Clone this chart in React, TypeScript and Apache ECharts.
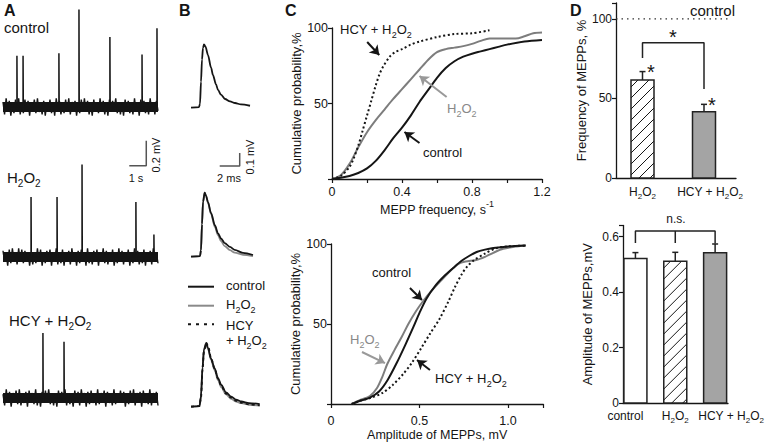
import React, { useEffect, useRef } from 'react';
import * as echarts from 'echarts';

const FONT = 'Liberation Sans, Arial, Helvetica, sans-serif';
const INK = '#151515';
const GRAY = '#8a8a8a';

// ---------- Panel A : raw recordings (time s, mV) ----------
const traceDuration = 9.12;
const spikesControl = [[0.82, 0.41], [1.18, 0.41], [3.29, 0.43], [4.47, 0.78], [6.29, 0.56], [8.18, 0.42], [9.06, 0.63]];
const spikesH2O2 = [[1.65, 0.48], [3.18, 0.48], [4.65, 0.74], [7.82, 0.44], [8.88, 0.18]];
const spikesHCY = [[2.35, 0.52], [3.59, 0.45]];
// baseline noise, in 0.01 mV
const noiseControl = [4, -6, 7, -3, 5, -7, 2, -5, 6, -4, 7, -6, 3, -5, 6, -2, 5, -7, 4, -3, 6, -5, 7, -4, 2, -6, 5, -7, 3, -4, 6, -5, 4, -7, 7, -3, 5, -6, 2, -5, 6, -4, 7, -6, 4, -2, 5, -7, 3, -5, 6, -4, 7, -3, 5, -6, 2, -7, 6, -4, 4, -5, 7, -3, 5, -6, 3, -7, 6, -4, 5, -2, 7, -5, 4, -6, 3, -7, 6, -3, 5, -5, 2, -6, 7, -4, 4, -7, 6, -3, 5, -5, 3, -6, 7, -4, 4, -6, 5, -3];
const noiseH2O2 = [5, -4, 3, -7, 6, -5, 7, -3, 4, -6, 7, -4, 6, -5, 5, -3, 4, -7, 3, -6, 2, -5, 7, -4, 6, -7, 3, -5, 5, -3, 6, -7, 4, -4, 7, -6, 3, -5, 6, -7, 4, -3, 5, -6, 7, -4, 3, -7, 5, -5, 6, -3, 4, -7, 7, -5, 3, -6, 5, -4, 6, -7, 4, -3, 7, -5, 5, -6, 3, -4, 6, -7, 2, -5, 7, -4, 5, -6, 4, -3, 6, -7, 3, -5, 7, -4, 5, -6, 2, -5, 6, -7, 4, -3, 5, -6, 7, -4, 3, -5];
const noiseHCY = [3, -6, 7, -4, 5, -7, 4, -3, 6, -5, 7, -6, 3, -4, 5, -7, 6, -3, 4, -5, 7, -6, 3, -7, 5, -4, 6, -3, 7, -5, 4, -6, 3, -7, 6, -4, 5, -3, 7, -6, 4, -5, 3, -7, 6, -4, 5, -6, 7, -3, 4, -7, 5, -5, 6, -4, 3, -6, 7, -5, 4, -3, 6, -7, 5, -4, 3, -6, 7, -5, 4, -4, 6, -3, 5, -7, 3, -5, 6, -4, 7, -6, 4, -3, 5, -7, 6, -4, 3, -5, 7, -6, 4, -3, 5, -6];
const scaleA = { seconds: 1, mV: 0.2 };

// ---------- Panel B : averaged MEPPs (time ms, mV) ----------
const bTopControl = [[0, 0], [0.8, 0.005], [0.9, 0.03], [1.0, 0.2], [1.1, 0.37], [1.2, 0.46], [1.3, 0.487], [1.45, 0.47], [1.7, 0.405], [2.0, 0.31], [2.2, 0.25], [2.5, 0.18], [2.7, 0.137], [3.0, 0.1], [3.4, 0.067], [3.9, 0.048], [4.4, 0.036], [5.0, 0.025], [5.9, 0.015]];
const bMidControl = [[0, 0], [0.9, 0.005], [1.0, 0.05], [1.1, 0.25], [1.2, 0.42], [1.37, 0.492], [1.5, 0.47], [1.7, 0.42], [2.0, 0.336], [2.4, 0.24], [2.7, 0.18], [3.0, 0.14], [3.37, 0.105], [3.9, 0.075], [4.37, 0.052], [5.2, 0.03], [6.2, 0.013]];
const bMidH2O2 = [[0, 0], [0.9, 0.005], [1.0, 0.05], [1.1, 0.25], [1.2, 0.42], [1.37, 0.492], [1.5, 0.468], [1.7, 0.415], [2.0, 0.33], [2.4, 0.225], [2.7, 0.165], [3.0, 0.12], [3.37, 0.082], [3.9, 0.05], [4.37, 0.031], [5.2, 0.015], [6.2, 0.005]];
const bBotControl = [[0, 0], [0.85, 0.005], [1.0, 0.08], [1.15, 0.3], [1.3, 0.44], [1.53, 0.488], [1.7, 0.45], [2.0, 0.37], [2.37, 0.295], [2.7, 0.22], [3.03, 0.167], [3.5, 0.11], [4.03, 0.077], [4.5, 0.055], [5.03, 0.04], [5.8, 0.028], [6.87, 0.02]];
const bBotH2O2 = [[0, 0], [0.85, 0.005], [1.0, 0.08], [1.15, 0.3], [1.3, 0.44], [1.5, 0.488], [1.7, 0.445], [2.0, 0.36], [2.37, 0.28], [2.7, 0.205], [3.03, 0.15], [3.5, 0.095], [4.03, 0.06], [4.5, 0.04], [5.03, 0.027], [5.8, 0.015], [6.87, 0.008]];
const bBotHCY = [[0, 0], [0.85, 0.005], [1.0, 0.07], [1.15, 0.28], [1.3, 0.43], [1.55, 0.49], [1.75, 0.455], [2.0, 0.375], [2.37, 0.29], [2.7, 0.215], [3.03, 0.158], [3.5, 0.1], [4.03, 0.068], [4.5, 0.045], [5.03, 0.03], [5.8, 0.018], [6.87, 0.01]];
const scaleB = { ms: 2, mV: 0.1 };

// ---------- Panel C : cumulative probability ----------
const cTopControl = [[0, 0], [0.05, 0.8], [0.1, 2], [0.15, 4], [0.2, 7], [0.25, 12], [0.3, 19], [0.35, 27], [0.4, 34], [0.45, 42], [0.5, 51], [0.55, 59], [0.6, 67], [0.65, 73.5], [0.7, 78], [0.75, 81], [0.8, 83], [0.85, 84.5], [0.9, 86], [0.95, 87.5], [1.0, 89], [1.1, 91], [1.2, 92]];
const cTopH2O2 = [[0, 0], [0.05, 2.5], [0.1, 10], [0.15, 21], [0.2, 31], [0.25, 39], [0.3, 46], [0.35, 53], [0.4, 59.5], [0.45, 66], [0.5, 72.5], [0.55, 79], [0.6, 84], [0.65, 86], [0.7, 87], [0.75, 88], [0.8, 89.5], [0.85, 91.5], [0.9, 93], [1.0, 93], [1.05, 93], [1.1, 94.5], [1.15, 96.5], [1.2, 97]];
const cTopHCY = [[0, 0], [0.05, 2], [0.1, 8], [0.125, 14], [0.15, 22], [0.175, 32], [0.2, 42], [0.225, 52], [0.25, 62], [0.27, 69], [0.29, 74], [0.33, 81], [0.36, 84], [0.4, 86], [0.45, 89], [0.5, 91], [0.6, 94], [0.7, 96], [0.8, 96.5], [0.9, 98.5]];
const cBotControl = [[0.117, 0], [0.165, 2], [0.22, 4], [0.273, 8], [0.32, 15], [0.371, 25.6], [0.42, 37], [0.465, 48], [0.5, 57], [0.54, 66], [0.59, 74], [0.64, 80], [0.69, 85], [0.738, 89.5], [0.78, 92.5], [0.823, 95], [0.87, 96.5], [0.917, 97.5], [1.0, 98.5], [1.1, 99]];
const cBotH2O2 = [[0.117, 0], [0.165, 2.5], [0.22, 5], [0.26, 10], [0.29, 17], [0.318, 25], [0.36, 34], [0.4, 42], [0.437, 50], [0.48, 58], [0.525, 65], [0.57, 71], [0.62, 77], [0.672, 83], [0.72, 87.5], [0.76, 89], [0.82, 90], [0.87, 92], [0.917, 94.5], [0.973, 97], [1.05, 98.5], [1.1, 99]];
const cBotHCY = [[0.117, 0], [0.165, 2], [0.23, 4], [0.292, 7], [0.35, 12], [0.41, 19], [0.456, 25.6], [0.51, 35], [0.56, 44], [0.612, 53], [0.663, 64], [0.7, 73], [0.738, 81], [0.77, 86], [0.81, 90], [0.87, 94], [0.936, 97.5], [1.0, 98.5], [1.1, 99]];

// ---------- Panel D : bar charts ----------
const dTopCats = ['H2O2', 'HCY + H2O2'];
const dTopMeans = [61.6, 41.7];
const dTopErr = [5.3, 4.6];
const dTopKinds = ['hatch', 'gray'];
const dBotCats = ['control', 'H2O2', 'HCY + H2O2'];
const dBotMeans = [0.521, 0.511, 0.541];
const dBotErr = [0.021, 0.032, 0.032];
const dBotKinds = ['white', 'hatch', 'gray'];

const h2o2 = (pre = '') => `{n|${pre}H}{s|2}{n|O}{s|2}`;

function rich(size: number, color: string) {
  const sub = Math.round(size * 0.68);
  const base = { fontFamily: FONT, color, fill: color };
  return {
    n: { ...base, fontSize: size, lineHeight: size + 1, verticalAlign: 'top' },
    q: { ...base, fontSize: size, lineHeight: size + 1, padding: [4, 0, 0, 0], verticalAlign: 'top' },
    s: { ...base, fontSize: sub, lineHeight: sub, padding: [Math.round(size * 0.5), 0, 0, 0], verticalAlign: 'top' },
    p: { ...base, fontSize: sub, lineHeight: sub, verticalAlign: 'top' },
    g12: { ...base, fontSize: size, width: 12 },
    g20: { ...base, fontSize: size, width: 20 },
    g32: { ...base, fontSize: size, width: 32 },
  };
}

function label(x: number, y: number, text: string, size: number, o: any = {}) {
  const color = o.color || INK;
  return {
    type: 'text', x, y, rotation: o.rotation || 0, z: 100, silent: true,
    style: {
      text, fill: color, fontSize: size, fontFamily: FONT, fontWeight: o.bold ? 'bold' : 'normal',
      align: o.align || 'left', verticalAlign: 'middle', rich: rich(size, color),
    },
  };
}

function spikeData(sp: number[][]) {
  const pts: number[][] = [[0, 0]];
  for (const [t, a] of sp) pts.push([t, 0], [t, a], [t + 0.015, 0]);
  pts.push([traceDuration, 0]);
  return pts;
}

function barRenderer(kinds: string[], barW: number) {
  return (_p: any, api: any) => {
    const i = api.value(0);
    const v = api.value(1);
    const e = api.value(2);
    const top = api.coord([i, v]);
    const base = api.coord([i, 0]);
    const et = api.coord([i, v + e]);
    const cx = top[0];
    const x0 = cx - barW / 2, x1 = cx + barW / 2, y0 = top[1], y1 = base[1];
    const kind = kinds[i];
    const ch: any[] = [];
    ch.push({ type: 'rect', shape: { x: x0, y: y0, width: barW, height: y1 - y0 }, style: { fill: kind === 'gray' ? '#a4a4a4' : '#ffffff' } });
    if (kind === 'hatch') {
      const step = 11;
      for (let c = x1 + y1 - 4; c > x0 + y0; c -= step) {
        const ax = Math.max(x0, c - y1);
        const bx = Math.min(x1, c - y0);
        if (bx - ax > 0.5) ch.push({ type: 'line', shape: { x1: ax, y1: c - ax, x2: bx, y2: c - bx }, style: { stroke: INK, lineWidth: 1 } });
      }
    }
    ch.push({ type: 'rect', shape: { x: x0, y: y0, width: barW, height: y1 - y0 }, style: { fill: 'none', stroke: '#222', lineWidth: 1.5 } });
    ch.push({ type: 'line', shape: { x1: cx, y1: y0, x2: cx, y2: et[1] }, style: { stroke: '#222', lineWidth: 1.5 } });
    ch.push({ type: 'line', shape: { x1: cx - 3, y1: et[1], x2: cx + 3, y2: et[1] }, style: { stroke: '#222', lineWidth: 1.5 } });
    return { type: 'group', children: ch };
  };
}

const axLine = { show: true, onZero: false, lineStyle: { color: INK, width: 1.3 } };
const axTick = { show: true, length: 4, lineStyle: { color: INK, width: 1.2 } };
const lbl = (size: number, margin: number) => ({ fontSize: size, color: INK, fontFamily: FONT, margin });
const nameStyle = (size: number) => ({ fontSize: size, color: INK, fontFamily: FONT, rich: rich(size, INK) });

function arrow(from: number[], to: number[], color: string) {
  return [{ coord: from, lineStyle: { color } }, { coord: to }];
}

function buildOption(): any {
  const grids = [
    { left: 3, top: 7, width: 155, height: 112.5 },
    { left: 3, top: 157, width: 155, height: 112.5 },
    { left: 3, top: 298, width: 155, height: 112.5 },
    { left: 191, top: 36.2, width: 70, height: 78 },
    { left: 191, top: 185.2, width: 70, height: 78 },
    { left: 191, top: 335.2, width: 70, height: 78 },
    { left: 332, top: 28, width: 210, height: 151 },
    { left: 331, top: 244, width: 212.4, height: 160 },
    { left: 616, top: 3, width: 120, height: 175 },
    { left: 611.75, top: 3, width: 123, height: 175 },
    { left: 623, top: 225.4, width: 105, height: 177.6 },
    { left: 615.5, top: 225.4, width: 120, height: 177.6 },
  ];

  const xAxis: any[] = [
    ...[0, 1, 2].map((g) => ({ type: 'value', gridIndex: g, min: 0, max: traceDuration, show: false })),
    ...[3, 4, 5].map((g) => ({ type: 'value', gridIndex: g, min: 0, max: 7, show: false })),
    {
      type: 'value', gridIndex: 6, min: 0, max: 1.2, interval: 0.2, axisLine: axLine, axisTick: axTick, splitLine: { show: false },
      axisLabel: { ...lbl(12.5, 6), formatter: (v: number) => { const r = Math.round(v * 10); return r % 4 === 0 ? (r === 0 ? '0' : (r / 10).toFixed(1)) : ''; } },
      name: '{q|MEPP frequency, s}{p|-1}', nameLocation: 'middle', nameGap: 20, nameTextStyle: nameStyle(12.5),
    },
    {
      type: 'value', gridIndex: 7, min: 0, max: 1.2, interval: 0.5, axisLine: axLine, axisTick: axTick, splitLine: { show: false },
      axisLabel: { ...lbl(12.5, 10), formatter: (v: number) => { const r = Math.round(v * 10); return r % 5 === 0 ? (r === 0 ? '0' : (r / 10).toFixed(1)) : ''; } },
      name: 'Amplitude of MEPPs, mV', nameLocation: 'middle', nameGap: 24, nameTextStyle: nameStyle(12.5),
    },
    { type: 'value', gridIndex: 8, min: 0, max: 1, axisLine: axLine, axisTick: { show: false }, axisLabel: { show: false }, splitLine: { show: false } },
    {
      type: 'category', gridIndex: 9, data: dTopCats, axisLine: { show: false }, axisTick: { show: false },
      axisLabel: { ...lbl(12, 8), interval: 0, hideOverlap: false, rich: rich(12, INK), formatter: (v: string) => (v === 'H2O2' ? h2o2() : '{g12| }' + h2o2('HCY + ')) },
    },
    { type: 'value', gridIndex: 10, min: 0, max: 1, axisLine: axLine, axisTick: { show: false }, axisLabel: { show: false }, splitLine: { show: false } },
    {
      type: 'category', gridIndex: 11, data: dBotCats, axisLine: { show: false }, axisTick: { show: false },
      axisLabel: {
        ...lbl(12, 7), interval: 0, hideOverlap: false, rich: rich(12, INK),
        formatter: (v: string) => (v === 'control' ? '{n|control}{g20| }' : v === 'H2O2' ? h2o2() : '{g32| }' + h2o2('HCY + ')),
      },
    },
  ];

  const yAxis: any[] = [
    ...[0, 1, 2].map((g) => ({ type: 'value', gridIndex: g, min: -0.1, max: 0.8, show: false })),
    ...[3, 4, 5].map((g) => ({ type: 'value', gridIndex: g, min: -0.05, max: 0.55, show: false })),
    ...[6, 7].map((g) => ({
      type: 'value', gridIndex: g, min: 0, max: 100, interval: 50, axisLine: axLine, axisTick: axTick, splitLine: { show: false },
      axisLabel: { ...lbl(12.5, 4), formatter: (v: number) => (v === 0 ? '' : String(v)) },
      name: 'Cumulative probability,%', nameLocation: 'middle', nameGap: 20, nameTextStyle: nameStyle(13),
    })),
    {
      type: 'value', gridIndex: 8, min: 0, max: 110, interval: 50, axisLine: axLine, axisTick: axTick, splitLine: { show: false },
      axisLabel: { ...lbl(12, 4), formatter: (v: number) => (v % 50 === 0 ? String(v) : '') },
      name: 'Frequency of MEPPs, %', nameLocation: 'middle', nameGap: 27, nameTextStyle: nameStyle(13),
    },
    { type: 'value', gridIndex: 9, min: 0, max: 110, show: false },
    {
      type: 'value', gridIndex: 10, min: 0, max: 0.64, interval: 0.2, axisLine: axLine, axisTick: axTick, splitLine: { show: false },
      axisLabel: { ...lbl(12, 4), formatter: (v: number) => { const r = Math.round(v * 100); return r % 20 === 0 ? (r === 0 ? '0' : (r / 100).toFixed(1)) : ''; } },
      name: 'Amplitude of MEPPs,mV', nameLocation: 'middle', nameGap: 29, nameTextStyle: nameStyle(13),
    },
    { type: 'value', gridIndex: 11, min: 0, max: 0.64, show: false },
  ];

  const line = (g: number, data: any[], color: string, width: number, extra: any = {}) => {
    const { lineStyle: ls, ...rest } = extra;
    return {
      type: 'line', xAxisIndex: g, yAxisIndex: g, data, symbol: 'none', silent: true,
      ...rest, lineStyle: { color, width, ...(ls || {}) },
    };
  };

  const noiseSets = [noiseControl, noiseH2O2, noiseHCY];
  const spikeSets = [spikesControl, spikesH2O2, spikesHCY];
  const cSmooth = { smooth: 0.3 };
  const bSmooth = { smooth: 0.3, smoothMonotone: 'x' };
  const arrowMark = (pairs: any[], color: string) => ({
    silent: true, symbol: ['none', 'arrow'], symbolSize: 9, label: { show: false },
    lineStyle: { color, width: 2, type: 'solid' }, data: pairs,
  });

  const aBarStart = [7.43, -0.47];
  const bBarStart = [2.87, 0.698];

  const series: any[] = [
    ...[0, 1, 2].map((g) => line(g, [[0, 0], [traceDuration, 0]], INK, 10)),
    ...noiseSets.map((nz, g) => line(g, nz.map((v, i) => [(i * traceDuration) / (nz.length - 1), v / 100]), INK, 1.4)),
    ...spikeSets.map((sp, g) => line(g, spikeData(sp), INK, 1.5)),
    line(0, [[aBarStart[0], aBarStart[1]], [aBarStart[0] + scaleA.seconds, aBarStart[1]], [aBarStart[0] + scaleA.seconds, aBarStart[1] + scaleA.mV]], '#555', 1.5, { clip: false }),

    line(3, bTopControl, INK, 1.8, bSmooth),
    line(4, bMidH2O2, GRAY, 1.8, bSmooth),
    line(4, bMidControl, INK, 1.8, bSmooth),
    line(4, [[bBarStart[0], bBarStart[1]], [bBarStart[0] + scaleB.ms, bBarStart[1]], [bBarStart[0] + scaleB.ms, bBarStart[1] + scaleB.mV]], '#555', 1.5, { clip: false }),
    line(5, bBotH2O2, GRAY, 1.8, bSmooth),
    line(5, bBotControl, INK, 1.8, bSmooth),
    line(5, bBotHCY, INK, 1.8, { ...bSmooth, lineStyle: { type: [3, 3] } }),

    line(6, cTopH2O2, '#7d7d7d', 2, { ...cSmooth, markLine: arrowMark([arrow([0.655, 54.3], [0.5, 68.2], '#999')], '#999') }),
    line(6, cTopControl, INK, 2, {
      ...cSmooth,
      markLine: arrowMark([arrow([0.201, 90.7], [0.27, 82.1], INK), arrow([0.5, 23.8], [0.414, 31.1], INK)], INK),
    }),
    line(6, cTopHCY, INK, 2, { ...cSmooth, lineStyle: { type: [2, 2.5] } }),

    line(7, cBotH2O2, '#7d7d7d', 2, { ...cSmooth, markLine: arrowMark([arrow([0.175, 32.5], [0.305, 25.6], '#999')], '#999') }),
    line(7, cBotControl, INK, 2, {
      ...cSmooth,
      markLine: arrowMark([arrow([0.446, 72.5], [0.514, 65], INK), arrow([0.559, 21.25], [0.486, 27.5], INK)], INK),
    }),
    line(7, cBotHCY, INK, 2, { ...cSmooth, lineStyle: { type: [2, 2.5] } }),

    line(8, [[0, 100], [0.94, 100]], '#333', 1.3, { lineStyle: { type: [1.5, 4] } }),
    {
      type: 'custom', xAxisIndex: 9, yAxisIndex: 9, silent: true, renderItem: barRenderer(dTopKinds, 23),
      encode: { x: 0, y: 1 }, data: dTopMeans.map((m, i) => [i, m, dTopErr[i]]),
    },
    line(9, [[0, 75.5], [0, 85], [1, 85], [1, 56]], '#222', 1.5),
    {
      type: 'custom', xAxisIndex: 11, yAxisIndex: 11, silent: true, renderItem: barRenderer(dBotKinds, 23),
      encode: { x: 0, y: 1 }, data: dBotMeans.map((m, i) => [i, m, dBotErr[i]]),
    },
    line(11, [[0, 0.577], [0, 0.62], [2, 0.62], [2, 0.575]], '#222', 1.5),
    line(11, [[1, 0.62], [1, 0.577]], '#222', 1.5),
  ];

  const graphic: any[] = [
    label(4, 10, 'A', 16, { bold: true }),
    label(179, 10, 'B', 16, { bold: true }),
    label(285, 10, 'C', 16, { bold: true }),
    label(570, 10, 'D', 16, { bold: true }),

    label(4, 27, 'control', 15),
    label(7, 178, h2o2(), 15),
    label(9, 321, h2o2('HCY + '), 15),
    label(156, 155, '0.2 mV', 11, { rotation: Math.PI / 2, align: 'center' }),
    label(136, 178, '1 s', 11, { align: 'center' }),

    { type: 'line', z: 100, shape: { x1: 188, y1: 286.7, x2: 214, y2: 286.7 }, style: { stroke: INK, lineWidth: 2 } },
    { type: 'line', z: 100, shape: { x1: 188, y1: 305.7, x2: 214, y2: 305.7 }, style: { stroke: GRAY, lineWidth: 2 } },
    { type: 'line', z: 100, shape: { x1: 188, y1: 324.3, x2: 214, y2: 324.3 }, style: { stroke: INK, lineWidth: 2, lineDash: [3, 5] } },
    label(226, 285, 'control', 13),
    label(226, 305, h2o2(), 13),
    label(226, 325, 'HCY', 13),
    label(226, 341, h2o2('+ '), 13),
    label(250, 157, '0.1 mV', 11, { rotation: Math.PI / 2, align: 'center' }),
    label(229, 178, '2 ms', 11, { align: 'center' }),

    label(340, 30, h2o2('HCY + '), 13),
    label(447, 109, h2o2(), 13, { color: '#888' }),
    label(423, 152, 'control', 13),
    label(372, 272, 'control', 13),
    label(350, 340, h2o2(), 13, { color: '#888' }),
    label(435, 379, h2o2('HCY + '), 13),

    label(690, 10, 'control', 15),
    label(673, 37, '*', 20, { align: 'center' }),
    label(651, 72, '*', 20, { align: 'center' }),
    label(712, 105, '*', 20, { align: 'center' }),
    label(676, 219, 'n.s.', 12, { align: 'center' }),
  ];

  return { animation: false, backgroundColor: '#ffffff', grid: grids, xAxis, yAxis, series, graphic };
}

export default function App() {
  const ref = useRef<HTMLDivElement>(null);
  useEffect(() => {
    const chart = echarts.init(ref.current as HTMLDivElement, undefined, { renderer: 'svg' });
    chart.setOption(buildOption());
    return () => chart.dispose();
  }, []);
  return <div ref={ref} style={{ position: 'fixed', left: 0, top: 0, width: 767, height: 444, background: '#fff' }} />;
}
